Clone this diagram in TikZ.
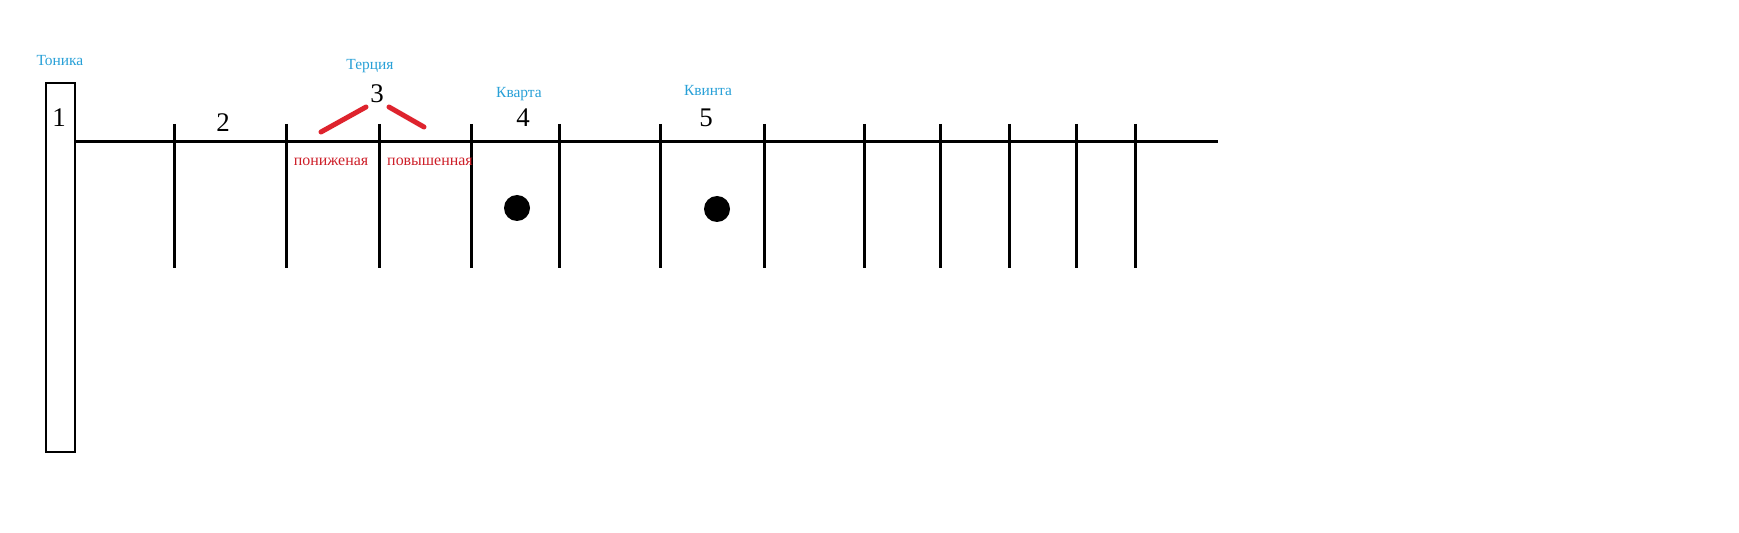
\documentclass[tikz,border=0pt]{standalone}
\usepackage{fontspec}
\setmainfont{Liberation Serif}
\usepackage{tikz}
\usetikzlibrary{positioning}
\definecolor{azzurro}{RGB}{40,160,215}
\definecolor{rosso}{RGB}{222,35,45}
\definecolor{rossoscuro}{RGB}{205,30,40}

\begin{document}
\begin{tikzpicture}[x = 1bp, y = -1bp, line width = 3bp,
    numero/.style = {font = \fontsize{27}{30}\selectfont, inner sep = 0pt},
    nome/.style = {text = azzurro, font = \fontsize{15.5}{18}\selectfont, inner sep = 0pt, anchor = base},
    grado/.style = {text = rossoscuro, font = \fontsize{16}{18}\selectfont, inner sep = 0pt, anchor = base}]
    \useasboundingbox (0,0) rectangle (1739,533);
    % Parametri
    \pgfmathsetmacro{\ytop}{124}
    \pgfmathsetmacro{\ybot}{268}
    \pgfmathsetmacro{\ycorda}{142}
    \pgfmathsetmacro{\rpunto}{13}
    % Capotasto
    \draw[line width = 2bp] (45.5,83) rectangle (75,452);
    % Corda
    \coordinate (inizio) at (75,\ycorda);
    \coordinate (fine) at (1218,\ycorda);
    \draw (inizio) -- (fine);
    % Tasti
    \foreach \x in {174,286,379,471,559,660,764,864,940,1009,1076,1135}{
        \draw (\x,\ytop) -- (\x,\ybot);
    }
    % Numeri
    \node[numero] (uno) at (59,118) {1};
    \node[numero] (due) at (223,123) {2};
    \node[numero] (tre) at (377,94) {3};
    \node[numero] (quattro) at (523,117.5) {4};
    \node[numero] (cinque) at (706,118) {5};
    % Nomi
    \node[nome] (tonica) at (60,66) {Тоника};
    \node[nome] (terza) at (370,70) {Терция};
    \node[nome] (quarta) at (519,98) {Кварта};
    \node[nome] (quinta) at (708,96) {Квинта};
    % Terza minore e maggiore
    \coordinate (sxalto) at (366,107);
    \coordinate (sxbasso) at (321,132);
    \coordinate (dxalto) at (389,107);
    \coordinate (dxbasso) at (424,127);
    \draw[rosso, line width = 5bp, line cap = round] (sxbasso) -- (sxalto);
    \draw[rosso, line width = 5bp, line cap = round] (dxalto) -- (dxbasso);
    \node[grado] (minore) at (331,166) {пониженая};
    \node[grado] (maggiore) at (430,166) {повышенная};
    % Punti
    \fill (517,208) circle (\rpunto);
    \fill (717,209) circle (\rpunto);
\end{tikzpicture}
\end{document}
